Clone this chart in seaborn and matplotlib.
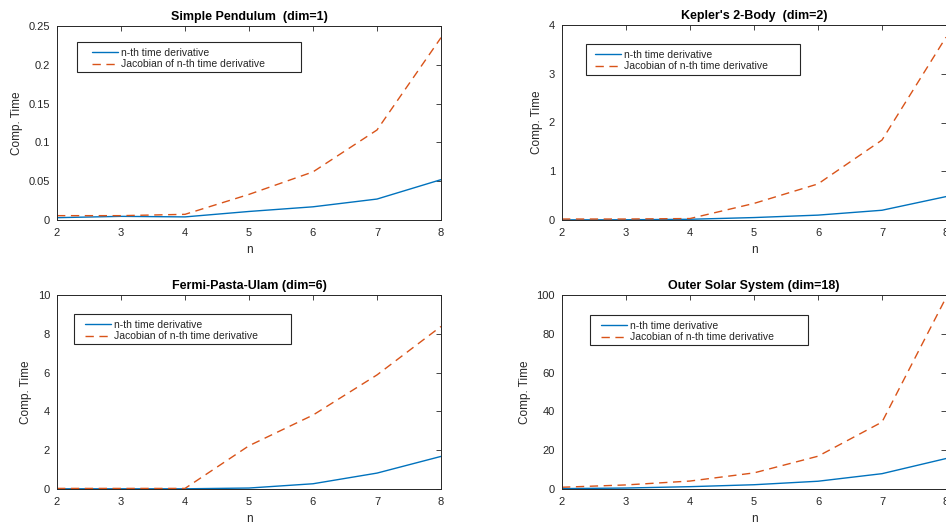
import numpy as np
import pandas as pd
import matplotlib
matplotlib.use("Agg")
import matplotlib.pyplot as plt
import seaborn as sns
from matplotlib.ticker import FuncFormatter
from matplotlib.lines import Line2D
from matplotlib.patches import Rectangle

sns.set_style("white")
plt.rcParams['font.family'] = ['Liberation Sans', 'DejaVu Sans']

n_values = [2, 3, 4, 5, 6, 7, 8]

titles = ["Simple Pendulum  (dim=1)", "Kepler's 2-Body  (dim=2)",
          "Fermi-Pasta-Ulam (dim=6)", "Outer Solar System (dim=18)"]

pend_deriv = [0.003, 0.0047, 0.004, 0.011, 0.017, 0.027, 0.052]
pend_jac = [0.0056, 0.0056, 0.0073, 0.033, 0.062, 0.116, 0.235]

kepler_deriv = [0.003, 0.005, 0.015, 0.05, 0.10, 0.20, 0.48]
kepler_jac = [0.02, 0.02, 0.03, 0.34, 0.74, 1.64, 3.75]

fpu_deriv = [0.01, 0.01, 0.01, 0.05, 0.27, 0.82, 1.68]
fpu_jac = [0.03, 0.03, 0.03, 2.23, 3.81, 5.88, 8.38]

oss_deriv = [0.2, 0.5, 1.2, 2.2, 4.0, 7.9, 15.7]
oss_jac = [0.9, 2.1, 4.1, 8.3, 16.9, 34.5, 98.6]

y_maxes = [0.25, 4, 10, 100]
y_steps = [0.05, 1, 2, 20]

series_labels = ["n-th time derivative", "Jacobian of n-th time derivative"]
colors = ["#0072BD", "#D95319"]

derivs = [pend_deriv, kepler_deriv, fpu_deriv, oss_deriv]
jacs = [pend_jac, kepler_jac, fpu_jac, oss_jac]

W, H = 946, 525
fig = plt.figure(figsize=(W / 100, H / 100), dpi=100)

# axes boxes in pixels: left, top, right, bottom
boxes = [(57, 26, 441, 220), (562, 25, 946, 220),
         (57, 295, 441, 489), (562, 295, 946, 489)]
# legend frame (left, top, right, bottom) and handle start x, in pixels
leg_boxes = [(77, 42, 301, 72), (586, 44, 800, 75),
             (74, 314, 291, 344), (590, 315, 808, 345)]
handle_x = [92, 595, 85, 601]

edge = "#262626"

for i in range(4):
    l, t, r, b = boxes[i]
    aw, ah = r - l, b - t
    ax = fig.add_axes([l / W, 1 - b / H, aw / W, ah / H])
    df = pd.DataFrame({
        "n": n_values * 2,
        "time": list(derivs[i]) + list(jacs[i]),
        "series": [series_labels[0]] * 7 + [series_labels[1]] * 7,
    })
    sns.lineplot(data=df, x="n", y="time", hue="series", style="series",
                 palette=colors, dashes=[(None, None), (6, 4)],
                 linewidth=1.0, ax=ax, legend=False)
    lines = ax.get_lines()
    lines[0].set_linestyle("-")
    lines[1].set_dashes((6, 4))
    ax.set_xlim(2, 8)
    ax.set_ylim(0, y_maxes[i])
    ax.set_xticks(n_values)
    ax.set_yticks(np.arange(0, y_maxes[i] + y_steps[i] / 2, y_steps[i]))
    ax.yaxis.set_major_formatter(FuncFormatter(lambda v, p: "%g" % round(v, 6)))
    ax.tick_params(direction="in", length=3.5, width=0.6, colors=edge,
                   labelsize=8, top=True, right=True)
    ax.tick_params(axis="x", pad=6)
    ax.tick_params(axis="y", pad=5)
    for s in ax.spines.values():
        s.set_color(edge)
        s.set_linewidth(0.7)
    ax.set_xlabel("n", fontsize=8.5, color=edge, labelpad=4)
    ax.set_ylabel("Comp. Time", fontsize=8.5, color=edge, labelpad=4)
    ax.set_title(titles[i], fontsize=9, fontweight="bold", color="black", pad=4)

    bl, bt, br, bb = leg_boxes[i]
    rect = Rectangle(((bl - l) / aw, (b - bb) / ah), (br - bl) / aw, (bb - bt) / ah,
                     transform=ax.transAxes, facecolor="white", edgecolor=edge,
                     linewidth=0.8, zorder=4)
    ax.add_patch(rect)
    handles = [Line2D([], [], color=colors[0], lw=1.0),
               Line2D([], [], color=colors[1], lw=1.0, dashes=(6, 4))]
    leg = ax.legend(handles, series_labels, loc="upper left",
                    bbox_to_anchor=((handle_x[i] - l) / aw, (b - bt - 6) / ah),
                    borderaxespad=0, borderpad=0,
                    fontsize=7.5, frameon=False,
                    handlelength=2.5, handletextpad=0.3,
                    labelspacing=0.12)
    leg.set_zorder(5)
    for txt in leg.get_texts():
        txt.set_color(edge)

fig.savefig("out.png", dpi=100)
